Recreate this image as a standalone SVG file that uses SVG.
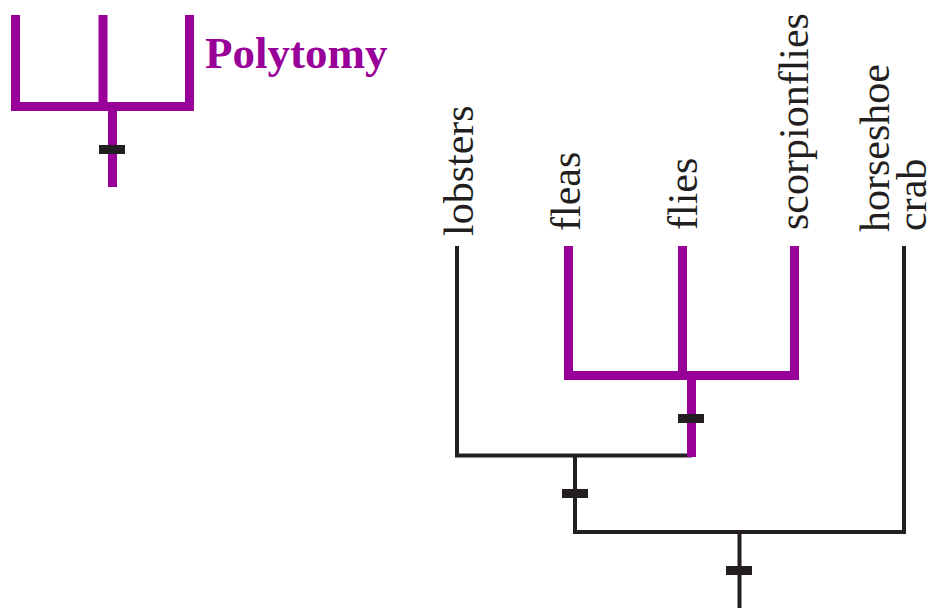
<svg xmlns="http://www.w3.org/2000/svg" width="936" height="608" viewBox="0 0 936 608">
  <style>
    .lbl { font-family: "Liberation Serif", "Times New Roman", serif; font-size: 42px; fill: #231f20; }
    .title { font-family: "Liberation Serif", "Times New Roman", serif; font-size: 45px; font-weight: bold; fill: #990099; }
    .pur { stroke: #990099; stroke-width: 9; fill: none; stroke-linecap: butt; stroke-linejoin: miter; }
    .blk { stroke: #231f20; stroke-width: 4; fill: none; stroke-linecap: butt; stroke-linejoin: miter; }
    .tick { fill: #231f20; }
  </style>
  <rect width="936" height="608" fill="#ffffff"/>

  <g id="legend">
    <path class="pur" d="M15.5,15 V106.5 H189.5 V15 M103,15 V106.5 M112.5,106.5 V187"/>
    <rect class="tick" x="99" y="145" width="26" height="9"/>
    <text class="title" x="205" y="68">Polytomy</text>
  </g>

  <g id="connectors">
    <path class="blk" d="M457,246 V455.5 H692"/>
    <path class="blk" d="M575,455.5 V532"/>
    <path class="blk" d="M573,532 H904 V246"/>
    <path class="blk" d="M739.5,532 V608"/>
    <path class="pur" d="M568.5,246 V375.5 H794.5 V246 M682.5,246 V375.5 M691.5,375.5 V457"/>
    <rect class="tick" x="678" y="414" width="26" height="9"/>
    <rect class="tick" x="562" y="489" width="26" height="9"/>
    <rect class="tick" x="726" y="566" width="26" height="9"/>
  </g>

  <g id="node-lobsters">
    <text class="lbl" transform="translate(473,236) rotate(-90)">lobsters</text>
  </g>
  <g id="node-fleas">
    <text class="lbl" transform="translate(580,231) rotate(-90)">fleas</text>
  </g>
  <g id="node-flies">
    <text class="lbl" transform="translate(697,230) rotate(-90)">flies</text>
  </g>
  <g id="node-scorpionflies">
    <text class="lbl" transform="translate(808,230) rotate(-90)">scorpionflies</text>
  </g>
  <g id="node-horseshoe-crab">
    <text class="lbl" transform="translate(889,232) rotate(-90)">horseshoe</text>
    <text class="lbl" transform="translate(926,231) rotate(-90)">crab</text>
  </g>
</svg>
